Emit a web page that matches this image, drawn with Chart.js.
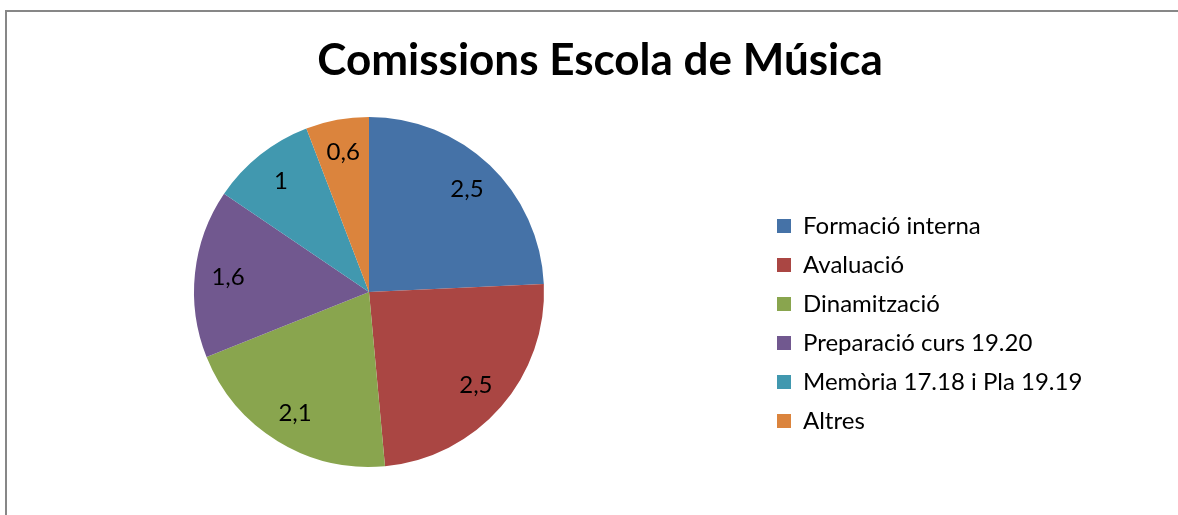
<!DOCTYPE html>
<html>
<head>
<meta charset="utf-8">
<script src="https://cdn.jsdelivr.net/npm/chart.js@4/dist/chart.umd.min.js"></script>
<style>
  html, body { margin: 0; padding: 0; background: #fff; overflow: hidden; width: 1178px; height: 515px; }
  #frame { position: absolute; left: 5px; top: 10px; width: 1300px; height: 600px; border: 2px solid #878787; box-sizing: border-box; }
  #myChart { position: absolute; left: -24px; top: 0; }
</style>
</head>
<body>
<div id="frame"></div>
<canvas id="myChart" width="1248" height="515"></canvas>
<script>
// dades del grafic
var titol = 'Comissions Escola de Música'
var categories = ['Formació interna', 'Avaluació', 'Dinamització', 'Preparació curs 19.20', 'Memòria 17.18 i Pla 19.19', 'Altres']
var hores = [2.5, 2.5, 2.1, 1.6, 1, 0.6]
var colors = ['#4572A7', '#AA4643', '#89A54E', '#71588F', '#4198AF', '#DB843D']

var LEGEND_BOX_W = 462

// amplada fixa de la llegenda (per centrar el titol com a l'original)
var legendWidth = {
    id: 'legendWidth',
    beforeInit(chart) {
        var fit = chart.legend.fit
        chart.legend.fit = function () {
            fit.call(this)
            this.width = LEGEND_BOX_W
        }
    }
}

// etiquetes dins de cada porcio
var etiquetes = {
    id: 'etiquetes',
    afterDatasetsDraw(chart) {
        var ctx = chart.ctx
        var meta = chart.getDatasetMeta(0)
        ctx.save()
        ctx.font = '24px Lato'
        ctx.fillStyle = '#000'
        ctx.textAlign = 'center'
        ctx.textBaseline = 'middle'
        meta.data.forEach(function (arc, i) {
            var p = arc.getProps(['x', 'y', 'startAngle', 'endAngle', 'outerRadius'], true)
            var mid = (p.startAngle + p.endAngle) / 2
            var r = p.outerRadius * 0.81
            var txt = String(hores[i]).replace('.', ',')
            ctx.fillText(txt, p.x + Math.cos(mid) * r, p.y + Math.sin(mid) * r)
        })
        ctx.restore()
    }
}

var myChart = new Chart(document.getElementById('myChart').getContext('2d'), {
    type: 'pie',
    data: {
        labels: categories,
        datasets: [{
            data: hores,
            backgroundColor: colors,
            borderWidth: 0,
            radius: 175
        }]
    },
    options: {
        responsive: false,
        animation: false,
        layout: { padding: { top: 0, bottom: 26, left: 0, right: 0 } },
        plugins: {
            title: {
                display: true,
                text: titol,
                color: '#000',
                font: { family: 'Lato', size: 44, weight: 'bold' },
                padding: { top: 34, bottom: 8 }
            },
            legend: {
                position: 'right',
                fullSize: false,
                title: { display: true, text: '', font: { size: 10 }, padding: { top: 51, bottom: 0 } },
                labels: {
                    boxWidth: 14,
                    boxHeight: 14,
                    padding: 15,
                    color: '#000',
                    font: { family: 'Lato', size: 24 }
                }
            },
            tooltip: { enabled: false }
        }
    },
    plugins: [legendWidth, etiquetes]
});
</script>
</body>
</html>
